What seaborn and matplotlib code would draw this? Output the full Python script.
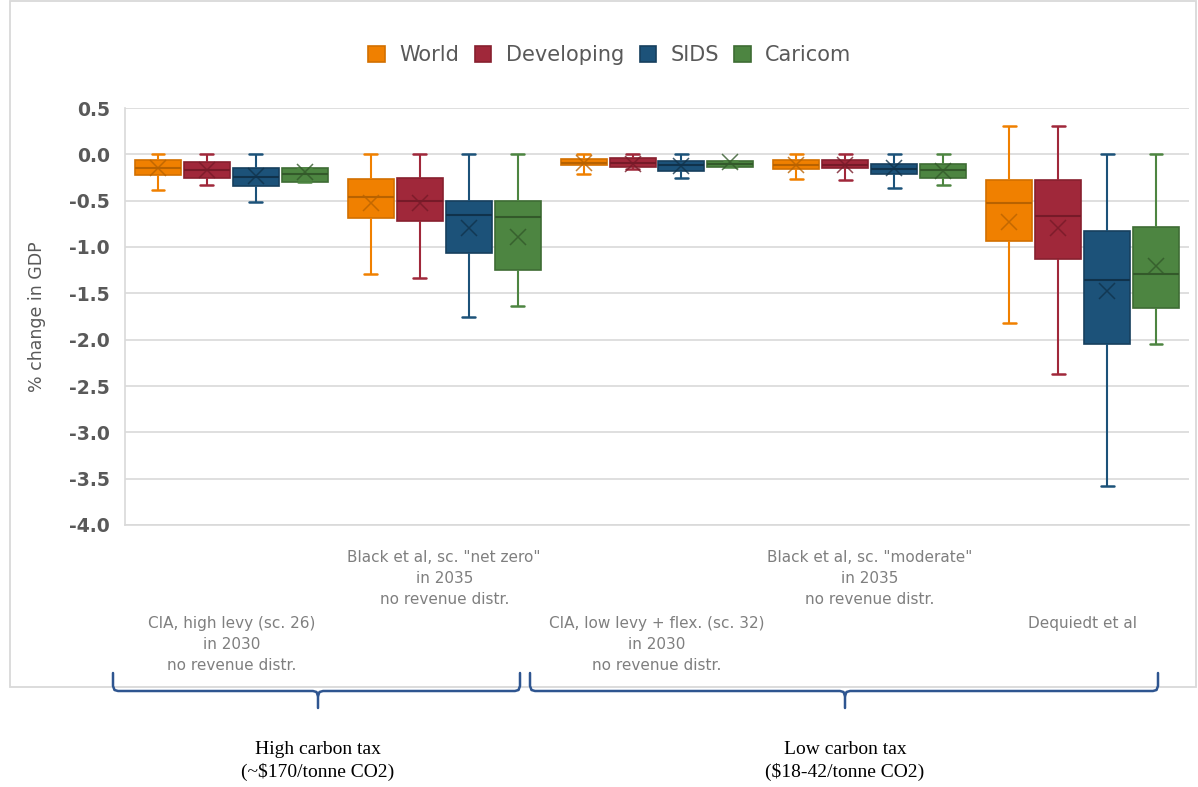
import numpy as np
import pandas as pd
import matplotlib
matplotlib.use("Agg")
import matplotlib.pyplot as plt
from matplotlib.patches import Patch, Rectangle
from matplotlib.lines import Line2D
import matplotlib.transforms as mtransforms
import seaborn as sns

# ---- data -------------------------------------------------------------
scenarios = [
    "CIA, high levy (sc. 26)\nin 2030\nno revenue distr.",
    'Black et al, sc. "net zero"\nin 2035\nno revenue distr.',
    "CIA, low levy + flex. (sc. 32)\nin 2030\nno revenue distr.",
    'Black et al, sc. "moderate"\nin 2035\nno revenue distr.',
    "Dequiedt et al",
]
regions = ["World", "Developing", "SIDS", "Caricom"]

# five-number summaries (% change in GDP) per region, one value per scenario
whisker_low = {
    "World":      [-0.38, -1.29, -0.21, -0.27, -1.82],
    "Developing": [-0.33, -1.33, -0.16, -0.28, -2.37],
    "SIDS":       [-0.51, -1.76, -0.26, -0.36, -3.58],
    "Caricom":    [-0.30, -1.64, -0.14, -0.33, -2.05],
}
q1 = {
    "World":      [-0.22, -0.69, -0.12, -0.16, -0.93],
    "Developing": [-0.26, -0.72, -0.14, -0.15, -1.13],
    "SIDS":       [-0.34, -1.07, -0.18, -0.21, -2.05],
    "Caricom":    [-0.30, -1.25, -0.14, -0.26, -1.66],
}
median = {
    "World":      [-0.15, -0.46, -0.09, -0.11, -0.52],
    "Developing": [-0.17, -0.50, -0.09, -0.11, -0.67],
    "SIDS":       [-0.24, -0.66, -0.12, -0.16, -1.36],
    "Caricom":    [-0.21, -0.68, -0.10, -0.17, -1.29],
}
q3 = {
    "World":      [-0.06, -0.27, -0.05, -0.06, -0.28],
    "Developing": [-0.08, -0.25, -0.04, -0.06, -0.28],
    "SIDS":       [-0.15, -0.50, -0.07, -0.10, -0.83],
    "Caricom":    [-0.15, -0.50, -0.07, -0.10, -0.78],
}
whisker_high = {
    "World":      [0.00, 0.00, 0.00, 0.00, 0.31],
    "Developing": [0.00, 0.00, 0.00, 0.00, 0.31],
    "SIDS":       [0.00, 0.00, 0.00, 0.00, 0.00],
    "Caricom":    [-0.15, 0.00, -0.07, 0.00, 0.00],
}
mean = {
    "World":      [-0.15, -0.52, -0.09, -0.11, -0.73],
    "Developing": [-0.17, -0.53, -0.10, -0.11, -0.80],
    "SIDS":       [-0.23, -0.79, -0.13, -0.15, -1.48],
    "Caricom":    [-0.19, -0.89, -0.08, -0.18, -1.21],
}
y_ticks = [0.5, 0.0, -0.5, -1.0, -1.5, -2.0, -2.5, -3.0, -3.5, -4.0]

tax_groups = ["High carbon tax\n(~$170/tonne CO2)", "Low carbon tax\n($18-42/tonne CO2)"]

# ---- styling ----------------------------------------------------------
face_colors = {"World": "#F08000", "Developing": "#A0283A", "SIDS": "#1C5279", "Caricom": "#4D8541"}
edge_colors = {"World": "#D27000", "Developing": "#87202F", "SIDS": "#163F5E", "Caricom": "#3E6C34"}
dark_colors = {"World": "#B86200", "Developing": "#761A28", "SIDS": "#10324B", "Caricom": "#33592A"}
GREY = "#595959"
LIGHT = "#D9D9D9"
BRACE = "#2E5590"

sns.set_theme(style="white")
plt.rcParams["font.family"] = ["DejaVu Sans"]

# long table: the five summary values of every box
rows = []
for r in regions:
    for i, s in enumerate(scenarios):
        for stat in (whisker_low, q1, median, q3, whisker_high):
            rows.append({"scenario": s, "region": r, "value": stat[r][i]})
df = pd.DataFrame(rows)

W, H = 1198, 787
fig = plt.figure(figsize=(W / 100, H / 100), dpi=100)
fig.patch.set_facecolor("white")


def fx(px):
    return px / W


def fy(py):
    return 1 - py / H


ax = fig.add_axes([fx(125), fy(525), fx(1189) - fx(125), fy(108) - fy(525)])

sns.boxplot(
    data=df, x="scenario", y="value", hue="region",
    order=scenarios, hue_order=regions, palette=face_colors, saturation=1,
    whis=(0, 100), width=0.92, gap=0.06, linewidth=1.2,
    showfliers=False, legend=False, ax=ax,
)

# per-region line colours, short caps and mean markers
for cont, r in zip(ax.containers, regions):
    centers = []
    widths = []
    for box in cont.boxes:
        box.set_facecolor(face_colors[r])
        box.set_edgecolor(edge_colors[r])
        box.set_linewidth(1.2)
        v = box.get_path().vertices
        centers.append((v[:, 0].min() + v[:, 0].max()) / 2)
        widths.append(v[:, 0].max() - v[:, 0].min())
    for ln in cont.whiskers:
        ln.set_color(face_colors[r])
        ln.set_linewidth(1.5)
    for k, ln in enumerate(cont.caps):
        c = centers[k // 2]
        hw = widths[k // 2] * 0.14
        ln.set_xdata([c - hw, c + hw])
        ln.set_color(face_colors[r])
        ln.set_linewidth(1.8)
    for ln in cont.medians:
        ln.set_color(dark_colors[r])
        ln.set_linewidth(1.5)
    ax.plot(centers, mean[r], linestyle="none", marker="x", markersize=11,
            markeredgewidth=1.1, color=dark_colors[r], alpha=0.8, zorder=5)

ax.set_xlim(-0.5, len(scenarios) - 0.5)
ax.set_ylim(-4.0, 0.5)
ax.set_yticks(y_ticks)
ax.set_yticklabels([f"{t:.1f}" for t in y_ticks])
ax.yaxis.grid(True, color=LIGHT, linewidth=1.2)
ax.set_axisbelow(True)
for side in ("top", "right"):
    ax.spines[side].set_visible(False)
for side in ("left", "bottom"):
    ax.spines[side].set_color(LIGHT)
    ax.spines[side].set_linewidth(1.2)
ax.tick_params(axis="y", length=0, pad=11, labelsize=13.5, labelcolor=GREY)
for t in ax.get_yticklabels():
    t.set_fontweight("bold")
ax.tick_params(axis="x", length=0, labelbottom=False)
ax.set_xlabel("")
ax.set_ylabel("% change in GDP", fontsize=12.5, color=GREY)
ax.yaxis.set_label_coords((46 - 125) / (1189 - 125), 0.5)

# staggered category labels
trans = mtransforms.blended_transform_factory(ax.transData, fig.transFigure)
for i, s in enumerate(scenarios):
    top = 550 if i % 2 else 616
    ax.text(i, fy(top), s, transform=trans, ha="center", va="top",
            fontsize=11, color="#7F7F7F", linespacing=1.5)

# legend
handles = [Patch(facecolor=face_colors[r], edgecolor=edge_colors[r], linewidth=1.2) for r in regions]
fig.legend(handles, regions, loc="center", bbox_to_anchor=(fx(610), fy(55)), ncol=4,
           frameon=False, handlelength=0.78, handleheight=0.78,
           handletextpad=0.7, columnspacing=0.75, labelcolor=GREY,
           prop={"family": "DejaVu Sans", "size": 15})

# chart border
fig.patches.append(Rectangle((fx(10), fy(687)), fx(1196) - fx(10), fy(1) - fy(687),
                             transform=fig.transFigure, fill=False,
                             edgecolor=LIGHT, linewidth=1.3, zorder=0))


# braces grouping the scenarios by tax level
def brace(x0, x1, xc, y_top=673, y_bar=691, y_tip=708, r=5):
    kw = dict(transform=fig.transFigure, color=BRACE, linewidth=1.8,
              solid_capstyle="round", solid_joinstyle="round")
    left = [(x0, y_top), (x0, y_bar - r), (x0 + 1.5, y_bar - 1), (x0 + r, y_bar),
            (xc - r, y_bar), (xc - 1.5, y_bar + 1), (xc, y_bar + r), (xc, y_tip)]
    right = [(x1, y_top), (x1, y_bar - r), (x1 - 1.5, y_bar - 1), (x1 - r, y_bar),
             (xc + r, y_bar), (xc + 1.5, y_bar + 1), (xc, y_bar + r)]
    for pts in (left, right):
        fig.lines.append(Line2D([fx(p[0]) for p in pts], [fy(p[1]) for p in pts], **kw))


brace(113, 520, 318)
brace(530, 1158, 845)

for label, xc in zip(tax_groups, (318, 845)):
    fig.text(fx(xc), fy(761), label, ha="center", va="center", fontsize=14,
             family="Liberation Serif", color="black", linespacing=1.4)

fig.savefig("out.png", dpi=100, facecolor="white")
